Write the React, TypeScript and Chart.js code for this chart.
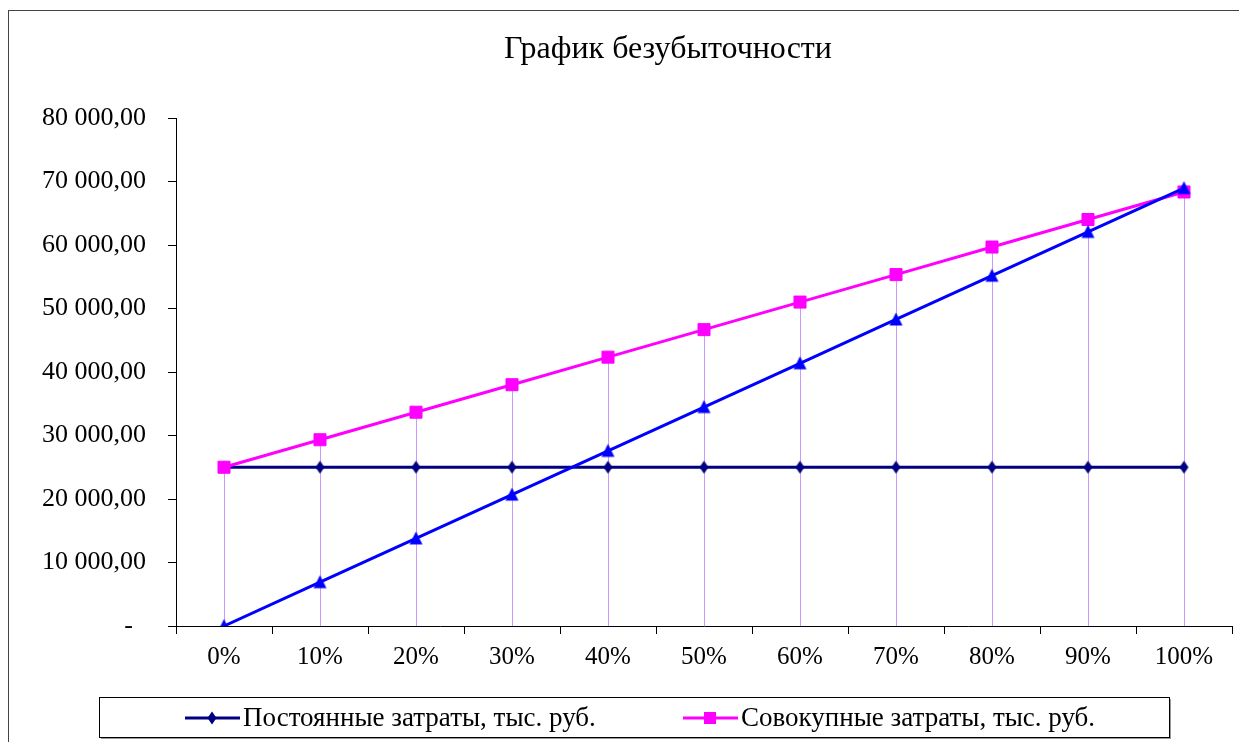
import React, { useEffect, useRef } from 'react';
import { Chart, registerables } from 'chart.js';

Chart.register(...registerables);

// Output level, share of capacity
const levels = ['0%', '10%', '20%', '30%', '40%', '50%', '60%', '70%', '80%', '90%', '100%'];

// Fixed costs, thousand roubles
const fixedCosts = [25000, 25000, 25000, 25000, 25000, 25000, 25000, 25000, 25000, 25000, 25000];

// Total costs, thousand roubles
const totalCosts = [25000, 29330, 33670, 38000, 42340, 46670, 51010, 55340, 59680, 64010, 68350];

// Revenue, thousand roubles
const revenue = [0, 6900, 13790, 20690, 27580, 34480, 41370, 48270, 55160, 62060, 68950];

const TITLE = 'График безубыточности';
const LEGEND_FIXED = 'Постоянные затраты, тыс. руб.';
const LEGEND_TOTAL = 'Совокупные затраты, тыс. руб.';

const SERIF = '"Liberation Serif", "Times New Roman", Times, serif';
const NAVY = '#000080';
const MAGENTA = '#FF00FF';
const BLUE = '#0000FF';
const DROP = '#CC99FF';

const CANVAS_W = 1233;
const CANVAS_H = 731;

// "80 000,00" style numbers; zero is shown as a dash
function formatRub(v: number): string {
  if (v === 0) return '-\u2002';
  const [int, frac] = v.toFixed(2).split('.');
  return int.replace(/\B(?=(\d{3})+(?!\d))/g, ' ') + ',' + frac;
}

function traceDiamond(ctx: CanvasRenderingContext2D, x: number, y: number) {
  ctx.moveTo(x, y - 6.5);
  ctx.lineTo(x + 4.5, y);
  ctx.lineTo(x, y + 6.5);
  ctx.lineTo(x - 4.5, y);
  ctx.closePath();
}

function traceTriangle(ctx: CanvasRenderingContext2D, x: number, y: number) {
  ctx.moveTo(x, y - 7);
  ctx.lineTo(x + 6.5, y + 6);
  ctx.lineTo(x - 6.5, y + 6);
  ctx.closePath();
}

// small canvases used as point glyphs
function glyph(w: number, h: number, color: string, trace: (c: CanvasRenderingContext2D, x: number, y: number) => void) {
  const c = document.createElement('canvas');
  c.width = w;
  c.height = h;
  const ctx = c.getContext('2d')!;
  ctx.fillStyle = color;
  ctx.beginPath();
  trace(ctx, w / 2, h / 2);
  ctx.fill();
  return c;
}

const titlePlugin = {
  id: 'chartTitleText',
  afterDraw(chart: any) {
    const ctx = chart.ctx;
    ctx.save();
    ctx.font = `32px ${SERIF}`;
    ctx.fillStyle = '#000';
    ctx.textAlign = 'center';
    ctx.textBaseline = 'middle';
    ctx.fillText(TITLE, 659, 39);
    ctx.restore();
  },
};

// vertical lines dropped from each total-cost point to the category axis
const dropLinesPlugin = {
  id: 'dropLines',
  beforeDatasetsDraw(chart: any) {
    const ctx = chart.ctx;
    const meta = chart.getDatasetMeta(1);
    const bottom = chart.chartArea.bottom;
    ctx.save();
    ctx.strokeStyle = DROP;
    ctx.lineWidth = 1;
    ctx.beginPath();
    meta.data.forEach((p: any) => {
      const x = Math.round(p.x) + 0.5;
      ctx.moveTo(x, p.y);
      ctx.lineTo(x, bottom);
    });
    ctx.stroke();
    ctx.restore();
  },
};

const legendPlugin = {
  id: 'boxedLegend',
  afterDraw(chart: any) {
    const ctx: CanvasRenderingContext2D = chart.ctx;
    const bx = 90, by = 686, bw = 1070, bh = 40;
    ctx.save();
    // shadow
    ctx.fillStyle = '#9a9a9a';
    ctx.fillRect(bx + 2, by + 2, bw, bh);
    ctx.fillStyle = '#fff';
    ctx.fillRect(bx, by, bw, bh);
    ctx.strokeStyle = '#000';
    ctx.lineWidth = 1;
    ctx.strokeRect(bx + 0.5, by + 0.5, bw, bh);

    const cy = by + bh / 2 + 1;
    const items = [
      { x: 176, color: NAVY, kind: 'diamond', text: LEGEND_FIXED },
      { x: 674, color: MAGENTA, kind: 'square', text: LEGEND_TOTAL },
    ];
    ctx.font = `27px ${SERIF}`;
    ctx.textBaseline = 'middle';
    ctx.textAlign = 'left';
    items.forEach((it) => {
      ctx.strokeStyle = it.color;
      ctx.lineWidth = 3;
      ctx.beginPath();
      ctx.moveTo(it.x, cy);
      ctx.lineTo(it.x + 55, cy);
      ctx.stroke();
      ctx.fillStyle = it.color;
      ctx.beginPath();
      if (it.kind === 'diamond') traceDiamond(ctx, it.x + 27, cy);
      else ctx.rect(it.x + 21, cy - 6, 12, 12);
      ctx.fill();
      ctx.fillStyle = '#000';
      ctx.fillText(it.text, it.x + 58, cy + 1);
    });
    ctx.restore();
  },
};

export default function App() {
  const canvasRef = useRef<HTMLCanvasElement | null>(null);

  useEffect(() => {
    const canvas = canvasRef.current;
    if (!canvas) return;
    const diamond = glyph(11, 15, NAVY, traceDiamond);
    const triangle = glyph(15, 15, BLUE, traceTriangle);
    const chart = new Chart(canvas, {
      type: 'line',
      data: {
        labels: levels,
        datasets: [
          {
            label: LEGEND_FIXED,
            data: fixedCosts,
            borderColor: NAVY,
            backgroundColor: NAVY,
            borderWidth: 3,
            pointStyle: diamond,
            pointRadius: 7,
            order: 2,
          },
          {
            label: LEGEND_TOTAL,
            data: totalCosts,
            borderColor: MAGENTA,
            backgroundColor: MAGENTA,
            borderWidth: 3,
            pointStyle: 'rect',
            pointRadius: 8.5,
            pointBorderWidth: 1,
            order: 1,
          },
          {
            label: 'Выручка, тыс. руб.',
            data: revenue,
            borderColor: BLUE,
            backgroundColor: BLUE,
            borderWidth: 3,
            pointStyle: triangle,
            pointRadius: 7,
            order: 0,
          },
        ],
      },
      options: {
        responsive: false,
        animation: false,
        devicePixelRatio: 1,
        layout: { padding: { left: 0, right: 3, top: 107, bottom: 0 } },
        plugins: {
          legend: { display: false },
          title: { display: false },
          tooltip: { enabled: false },
        },
        scales: {
          x: {
            type: 'category',
            offset: true,
            grid: {
              offset: true,
              drawOnChartArea: false,
              drawTicks: true,
              tickLength: 8,
              color: '#000',
            },
            border: { display: true, color: '#000', width: 1 },
            ticks: {
              color: '#000',
              font: { family: SERIF, size: 25 },
              padding: 8,
              maxRotation: 0,
              autoSkip: false,
            },
            afterFit(scale: any) {
              scale.height = 116;
            },
          },
          y: {
            min: 0,
            max: 80000,
            grid: {
              drawOnChartArea: false,
              drawTicks: true,
              tickLength: 8,
              color: '#000',
            },
            border: { display: true, color: '#000', width: 1 },
            ticks: {
              stepSize: 10000,
              color: '#000',
              font: { family: SERIF, size: 26 },
              padding: 22,
              callback: (v: any) => formatRub(Number(v)),
            },
            afterFit(scale: any) {
              scale.width = 167;
            },
          },
        },
      },
      plugins: [dropLinesPlugin, titlePlugin, legendPlugin],
    });
    return () => chart.destroy();
  }, []);

  return (
    <div style={{ position: 'fixed', inset: 0, overflow: 'hidden', background: '#fff' }}>
      <div
        style={{
          position: 'absolute',
          left: 8,
          top: 10,
          width: 2000,
          height: 2000,
          borderLeft: '1px solid #444',
          borderTop: '1px solid #444',
        }}
      />
      <canvas
        ref={canvasRef}
        width={CANVAS_W}
        height={CANVAS_H}
        style={{ position: 'absolute', left: 9, top: 11, width: CANVAS_W, height: CANVAS_H }}
      />
    </div>
  );
}
